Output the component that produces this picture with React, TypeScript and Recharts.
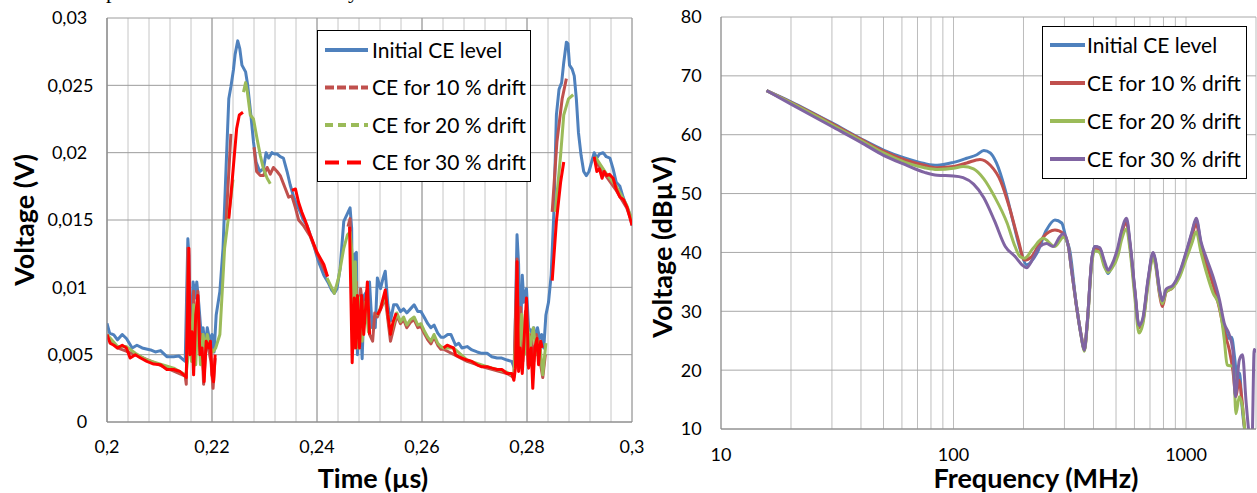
import React from 'react';
import { LineChart, Line, XAxis, YAxis, CartesianGrid } from 'recharts';

type Pt = [number, number | null];

// ---------- Left chart (time domain) ----------
const timeTickValues = [0.2, 0.22, 0.24, 0.26, 0.28, 0.3];
const timeTickLabels = ['0,2', '0,22', '0,24', '0,26', '0,28', '0,3'];
const timeMinorStep = 0.004;
const voltTickValues = [0, 0.005, 0.01, 0.015, 0.02, 0.025, 0.03];
const voltTickLabels = ['0', '0,005', '0,01', '0,015', '0,02', '0,025', '0,03'];

const seriesNames = ['Initial CE level', 'CE for 10 % drift', 'CE for 20 % drift', 'CE for 30 % drift'];

const initialTime: Pt[] = [
  [0.2, 0.00733], [0.2005, 0.0066], [0.2013, 0.00647], [0.202, 0.0061], [0.2029, 0.0065], [0.2037, 0.0062],
  [0.2048, 0.0055], [0.2057, 0.0057], [0.2067, 0.0055], [0.2083, 0.00535], [0.2092, 0.0052], [0.2102, 0.0053],
  [0.2114, 0.00485], [0.2127, 0.00485], [0.2137, 0.0049], [0.2149, 0.0045], [0.2154, 0.0136], [0.2156, 0.0124],
  [0.2159, 0.0055], [0.2164, 0.0104], [0.2168, 0.0092], [0.2171, 0.0104], [0.2175, 0.0087], [0.2179, 0.0067],
  [0.2183, 0.007], [0.2187, 0.0055], [0.2191, 0.007], [0.2196, 0.006], [0.22, 0.0065], [0.2204, 0.0052],
  [0.2208, 0.00795], [0.2215, 0.0097], [0.2221, 0.0129], [0.2227, 0.0191], [0.2232, 0.024], [0.2236, 0.0249],
  [0.2241, 0.0262], [0.2244, 0.0273], [0.2249, 0.0283], [0.2253, 0.0277], [0.2257, 0.0265], [0.2264, 0.026],
  [0.2268, 0.025], [0.2274, 0.0228], [0.2279, 0.0208], [0.2284, 0.0193], [0.2291, 0.0186], [0.2298, 0.0188],
  [0.2303, 0.02], [0.2308, 0.0196], [0.2314, 0.02], [0.2319, 0.0199], [0.2324, 0.0199], [0.233, 0.0197],
  [0.2336, 0.0196], [0.2343, 0.0186], [0.2349, 0.0176], [0.2355, 0.0168], [0.2362, 0.0161], [0.2368, 0.0156],
  [0.2374, 0.015], [0.2381, 0.0146], [0.2387, 0.0139], [0.2394, 0.0131], [0.2403, 0.0119], [0.2413, 0.0109],
  [0.2422, 0.0103], [0.2428, 0.0098], [0.2433, 0.00955], [0.2438, 0.0099], [0.2444, 0.0114], [0.2451, 0.0149],
  [0.2457, 0.0154], [0.2463, 0.0159], [0.2466, 0.0144], [0.2468, 0.0055], [0.2471, 0.0124], [0.2475, 0.0126],
  [0.2477, 0.005], [0.2481, 0.0092], [0.2486, 0.0047], [0.249, 0.0094], [0.2495, 0.0097], [0.25, 0.0104],
  [0.2505, 0.007], [0.2511, 0.007], [0.2515, 0.0107], [0.2521, 0.0099], [0.2526, 0.0107], [0.253, 0.0112],
  [0.2535, 0.0087], [0.254, 0.0075], [0.2546, 0.0087], [0.2552, 0.0087], [0.2559, 0.0082], [0.2565, 0.0084],
  [0.2571, 0.0081], [0.2578, 0.0084], [0.2585, 0.0087], [0.2592, 0.0082], [0.2598, 0.0082], [0.2604, 0.0078],
  [0.2611, 0.0073], [0.2617, 0.007], [0.2623, 0.0072], [0.263, 0.0066], [0.2636, 0.0063], [0.2642, 0.0063],
  [0.2649, 0.0065], [0.2655, 0.0065], [0.2664, 0.0057], [0.267, 0.00585], [0.2676, 0.0055], [0.2686, 0.0056],
  [0.2695, 0.00535], [0.2705, 0.0052], [0.2714, 0.0051], [0.2724, 0.0051], [0.2733, 0.00485], [0.2743, 0.00475],
  [0.2752, 0.00475], [0.2762, 0.0046], [0.2771, 0.0045], [0.2776, 0.004], [0.2781, 0.0139], [0.2784, 0.0117],
  [0.2787, 0.0055], [0.2791, 0.0109], [0.2794, 0.0089], [0.2799, 0.0099], [0.2803, 0.007], [0.2808, 0.0067],
  [0.2813, 0.007], [0.2817, 0.006], [0.282, 0.007], [0.2824, 0.0062], [0.2828, 0.0065], [0.2832, 0.0055],
  [0.2836, 0.00795], [0.2841, 0.0089], [0.2846, 0.0109], [0.2851, 0.0154], [0.2856, 0.0228], [0.2861, 0.0247],
  [0.2866, 0.0252], [0.287, 0.0267], [0.2875, 0.0282], [0.2878, 0.0281], [0.2881, 0.0265], [0.2886, 0.0262],
  [0.289, 0.0257], [0.2894, 0.024], [0.2898, 0.0215], [0.2903, 0.0198], [0.2908, 0.0186], [0.2913, 0.0183],
  [0.2918, 0.0186], [0.2923, 0.0193], [0.2928, 0.02], [0.2933, 0.0196], [0.2938, 0.0199], [0.2945, 0.02],
  [0.2951, 0.0197], [0.2958, 0.0196], [0.2964, 0.0188], [0.297, 0.0178], [0.2977, 0.0175], [0.2983, 0.0167],
  [0.2989, 0.0161], [0.2996, 0.0154], [0.3, 0.0146],
];

const drift10Time: Pt[] = [
  [0.2, 0.0064], [0.202, 0.0055], [0.2054, 0.005], [0.2102, 0.0042], [0.2149, 0.0034], [0.2151, 0.0028],
  [0.2154, 0.0129], [0.2157, 0.008], [0.216, 0.005], [0.2165, 0.0097], [0.2168, 0.00425], [0.2173, 0.0097],
  [0.2177, 0.0055], [0.218, 0.0065], [0.2184, 0.0028], [0.2189, 0.006], [0.2193, 0.0055], [0.2198, 0.0045],
  [0.2202, 0.0025], [0.2206, 0.00475], [0.222, null], [0.2227, 0.015], [0.2236, 0.0214], [0.225, null],
  [0.228, 0.0204], [0.2285, 0.0186], [0.2292, 0.0183], [0.2298, 0.0183], [0.2305, 0.0189], [0.2311, 0.0184],
  [0.2317, 0.0189], [0.2324, 0.0186], [0.233, 0.0183], [0.234, 0.0173], [0.2346, 0.0167], [0.2352, 0.0168],
  [0.2359, 0.0159], [0.2365, 0.015], [0.2374, 0.0146], [0.2387, 0.0138], [0.24, 0.0125], [0.242, 0.0108],
  [0.244, null], [0.2459, 0.0145], [0.2463, 0.0151], [0.2467, 0.008], [0.2471, 0.0055], [0.2475, 0.0104],
  [0.2479, 0.0055], [0.2483, 0.0099], [0.2489, 0.008], [0.2495, 0.0097], [0.25, 0.0065], [0.2506, 0.006],
  [0.251, 0.0081], [0.2515, 0.0078], [0.253, 0.0092], [0.254, 0.006], [0.2552, 0.0079], [0.2559, 0.0073],
  [0.2565, 0.0076], [0.2571, 0.007], [0.2578, 0.0074], [0.2585, 0.0076], [0.2592, 0.007], [0.2598, 0.0071],
  [0.2604, 0.0066], [0.2611, 0.0061], [0.2617, 0.0058], [0.2623, 0.0063], [0.263, 0.0057], [0.2636, 0.0054],
  [0.2641, 0.0054], [0.2686, 0.0045], [0.2724, 0.004], [0.2762, 0.0036], [0.2775, 0.0033], [0.2781, 0.0121],
  [0.2784, 0.006], [0.2788, 0.0085], [0.2792, 0.0045], [0.2797, 0.0082], [0.2802, 0.0042], [0.2808, 0.0065],
  [0.2813, 0.0045], [0.2818, 0.0065], [0.2823, 0.005], [0.283, 0.0033], [0.2835, 0.005], [0.2842, null],
  [0.2848, 0.0156], [0.2857, 0.0208], [0.2867, 0.024], [0.2875, 0.0255], [0.29, null], [0.2928, 0.0195],
  [0.295, 0.0183], [0.297, 0.0172], [0.299, 0.0159], [0.3, 0.0148],
];

const drift20Time: Pt[] = [
  [0.2, 0.0065], [0.202, 0.0056], [0.2037, 0.0056], [0.2054, 0.0051], [0.2076, 0.0046], [0.2102, 0.0043],
  [0.2127, 0.004], [0.2149, 0.0035], [0.215, 0.0033], [0.2154, 0.00475], [0.2157, 0.0084], [0.2161, 0.0045],
  [0.2165, 0.0087], [0.2169, 0.00425], [0.2173, 0.00795], [0.2178, 0.00425], [0.2183, 0.0065], [0.2187, 0.0055],
  [0.2191, 0.0065], [0.2196, 0.0055], [0.2202, 0.0052], [0.2207, 0.0055], [0.2215, 0.0065], [0.2224, 0.0129],
  [0.2232, 0.0154], [0.224, 0.018], [0.225, null], [0.226, 0.0245], [0.2264, 0.0252], [0.2267, 0.0246],
  [0.2273, 0.0228], [0.2279, 0.0225], [0.2286, 0.021], [0.2292, 0.0198], [0.2298, 0.0188], [0.2305, 0.0181],
  [0.2311, 0.0177], [0.235, null], [0.2419, 0.0107], [0.2433, 0.00955], [0.2441, 0.0107], [0.2451, 0.0129],
  [0.2458, 0.0139], [0.2463, 0.0141], [0.2467, 0.0124], [0.247, 0.00795], [0.2473, 0.0119], [0.2477, 0.0055],
  [0.2481, 0.0092], [0.2486, 0.006], [0.2492, 0.0089], [0.2498, 0.0067], [0.2501, 0.007], [0.2508, null],
  [0.2515, 0.0079], [0.253, 0.0094], [0.254, 0.0065], [0.2552, 0.0081], [0.2559, 0.00745], [0.2565, 0.0078],
  [0.2571, 0.0072], [0.2578, 0.0076], [0.2585, 0.0078], [0.2592, 0.0072], [0.2598, 0.0073], [0.2604, 0.0068],
  [0.2611, 0.0063], [0.2617, 0.006], [0.2623, 0.0065], [0.263, 0.00585], [0.2636, 0.0056], [0.2641, 0.0055],
  [0.266, 0.0055], [0.2686, 0.0046], [0.2724, 0.0041], [0.2762, 0.0037], [0.2775, 0.0034], [0.2778, 0.0057],
  [0.2781, 0.0089], [0.2785, 0.0045], [0.279, 0.008], [0.2795, 0.005], [0.28, 0.0075], [0.2806, 0.0055],
  [0.2812, 0.007], [0.2818, 0.005], [0.2824, 0.006], [0.283, 0.0035], [0.2836, 0.00585], [0.2845, null],
  [0.2854, 0.0156], [0.2864, 0.0198], [0.287, 0.0228], [0.2879, 0.024], [0.2888, 0.0243], [0.29, null],
  [0.293, 0.0197], [0.295, 0.0185], [0.297, 0.0175], [0.299, 0.0161], [0.3, 0.015],
];

const drift30Time: Pt[] = [
  [0.2, 0.0065], [0.2006, 0.00585], [0.2013, 0.0057], [0.202, 0.0055], [0.2029, 0.0057], [0.2037, 0.0055],
  [0.2044, 0.00475], [0.2054, 0.005], [0.2064, 0.00475], [0.2076, 0.0045], [0.2089, 0.0043], [0.2102, 0.00425],
  [0.2114, 0.0039], [0.2127, 0.0039], [0.2139, 0.00375], [0.2149, 0.0034], [0.2151, 0.0033], [0.2156, 0.0129],
  [0.2158, 0.005], [0.2162, 0.0067], [0.2165, 0.0035], [0.2169, 0.00795], [0.2173, 0.0094], [0.2177, 0.005],
  [0.2181, 0.0055], [0.2185, 0.003], [0.2189, 0.006], [0.2194, 0.0055], [0.2197, 0.006], [0.22, 0.0035],
  [0.2203, 0.003], [0.2206, 0.005], [0.221, null], [0.2232, 0.0151], [0.2236, 0.0168], [0.2241, 0.0191],
  [0.2247, 0.0218], [0.2252, 0.0228], [0.2259, 0.023], [0.23, null], [0.2352, 0.0172], [0.2359, 0.0173],
  [0.2365, 0.0163], [0.2371, 0.0156], [0.2378, 0.0149], [0.2387, 0.0139], [0.24, 0.0126], [0.2413, 0.0117],
  [0.242, 0.0108], [0.244, null], [0.2462, 0.0145], [0.2467, 0.0044], [0.2471, 0.0092], [0.2474, 0.0055],
  [0.2477, 0.0094], [0.2481, 0.0055], [0.2485, 0.0094], [0.2489, 0.0065], [0.2493, 0.0087], [0.2496, 0.0104],
  [0.25, 0.0065], [0.2508, null], [0.2515, 0.00795], [0.2521, 0.0084], [0.2526, 0.0092], [0.253, 0.0098],
  [0.2535, 0.00795], [0.254, 0.0065], [0.2545, 0.00745], [0.2551, 0.0081], [0.258, null], [0.2641, 0.0055],
  [0.2648, 0.0057], [0.2654, 0.0056], [0.266, 0.0055], [0.2664, 0.005], [0.267, 0.00485], [0.2676, 0.00475],
  [0.2686, 0.0046], [0.2695, 0.0045], [0.2705, 0.00425], [0.2714, 0.0041], [0.2724, 0.0041], [0.2733, 0.004],
  [0.2743, 0.0039], [0.2752, 0.0039], [0.2762, 0.0036], [0.2771, 0.0036], [0.2775, 0.0031], [0.2778, 0.004],
  [0.2781, 0.0119], [0.2784, 0.00375], [0.2787, 0.0055], [0.2791, 0.0036], [0.2795, 0.0065], [0.2799, 0.0092],
  [0.2803, 0.004], [0.2808, 0.0055], [0.2811, 0.0025], [0.2815, 0.0055], [0.2819, 0.0062], [0.2822, 0.00425],
  [0.2826, 0.006], [0.2829, 0.0055], [0.284, null], [0.2848, 0.0105], [0.2856, 0.0149], [0.2864, 0.0178],
  [0.287, 0.0193], [0.29, null], [0.2928, 0.0197], [0.2933, 0.0186], [0.2938, 0.0188], [0.2943, 0.0181],
  [0.2947, 0.0186], [0.2952, 0.0183], [0.2957, 0.0184], [0.2964, 0.0181], [0.297, 0.0173], [0.2977, 0.0167],
  [0.2984, 0.0165], [0.2991, 0.0159], [0.3, 0.0146],
];

// ---------- Right chart (frequency domain) ----------
const freqTickValues = [10, 100, 1000];
const freqTickLabels = ['10', '100', '1000'];
const freqDomain = [10, 2000];
const dbTickValues = [10, 20, 30, 40, 50, 60, 70, 80];
const dbTickLabels = ['10', '20', '30', '40', '50', '60', '70', '80'];

const initialFreq: Pt[] = [
  [15.7, 67.5], [20, 65.6], [30, 62.0], [40, 59.3], [50, 57.4], [62, 56.0], [75, 55.1], [85, 54.8], [100, 55.3],
  [114, 56.0], [126, 56.6], [135, 57.3], [144, 56.9], [153, 55.2], [167, 50.6], [181, 45.0], [196, 39.8],
  [206, 37.9], [228, 39.8], [251, 43.8], [273, 45.5], [292, 45.0], [306, 42.1], [316, 40.4], [338, 30.8],
  [355, 25.7], [365, 23.4], [376, 28.0], [393, 38.7], [405, 41.0], [425, 40.7], [446, 38.1], [462, 36.4],
  [478, 37.5], [510, 40.4], [527, 43.2], [555, 45.4], [574, 41.5], [602, 33.6], [628, 27.4], [652, 28.5],
  [687, 35.3], [722, 39.8], [737, 38.7], [772, 33.1], [791, 31.6], [822, 33.6], [876, 34.2], [938, 36.4],
  [1000, 39.8], [1059, 43.2], [1106, 45.5], [1160, 41.5], [1220, 38.7], [1304, 35.3], [1392, 31.4], [1462, 27.4],
  [1530, 25.4], [1570, 25.6], [1620, 22.0], [1660, 18.5], [1700, 19.5], [1740, 14.0], [1800, 9.0], [1900, 6.0],
];

const drift10Freq: Pt[] = [
  [15.7, 67.5], [20, 65.5], [30, 61.9], [40, 59.2], [50, 57.2], [62, 55.7], [75, 54.8], [85, 54.4], [100, 54.6],
  [114, 55.2], [130, 55.8], [144, 54.8], [160, 52.0], [175, 47.3], [190, 42.1], [202, 38.7], [217, 39.3],
  [243, 42.6], [273, 43.8], [297, 43.2], [312, 41.0], [322, 37.0], [338, 30.8], [355, 25.7], [365, 23.4],
  [376, 28.0], [393, 38.5], [405, 40.7], [425, 40.5], [446, 37.8], [462, 36.8], [478, 37.5], [510, 40.2],
  [527, 43.0], [555, 45.0], [574, 41.3], [602, 33.4], [628, 27.2], [652, 28.3], [687, 35.0], [722, 39.6],
  [737, 38.5], [772, 32.5], [791, 30.8], [822, 33.3], [876, 34.0], [938, 36.2], [1000, 39.6], [1059, 42.8],
  [1106, 44.8], [1160, 41.2], [1220, 38.2], [1304, 34.6], [1392, 30.5], [1462, 26.5], [1536, 23.4], [1590, 20.0],
  [1640, 15.5], [1690, 18.3], [1740, 15.0], [1800, 9.0], [1900, 6.0],
];

const drift20Freq: Pt[] = [
  [15.7, 67.5], [20, 65.4], [30, 61.7], [40, 59.0], [50, 56.9], [62, 55.3], [75, 54.4], [85, 54.1], [100, 54.3],
  [110, 54.6], [122, 54.2], [135, 52.5], [150, 49.5], [170, 45.0], [184, 41.0], [193, 39.3], [202, 39.0],
  [220, 40.7], [243, 42.4], [273, 41.0], [297, 42.6], [310, 41.5], [322, 37.0], [338, 31.0], [355, 25.5],
  [365, 23.2], [376, 27.5], [393, 38.0], [405, 40.3], [425, 40.0], [446, 37.5], [462, 36.6], [478, 37.2],
  [510, 39.5], [527, 42.0], [555, 44.0], [574, 40.5], [602, 32.5], [628, 26.3], [652, 27.8], [687, 34.5],
  [722, 39.3], [737, 38.0], [772, 32.8], [791, 31.3], [822, 33.3], [876, 34.0], [938, 35.8], [1000, 38.8],
  [1059, 41.5], [1106, 43.5], [1160, 40.0], [1220, 36.8], [1304, 33.2], [1392, 30.8], [1462, 25.1], [1502, 20.9],
  [1600, 20.6], [1640, 12.6], [1695, 15.5], [1750, 13.7], [1800, 9.0], [1900, 6.0],
];

const drift30Freq: Pt[] = [
  [15.7, 67.5], [20, 65.2], [30, 61.4], [40, 58.7], [50, 56.5], [62, 54.9], [75, 53.6], [85, 53.1], [100, 53.0],
  [110, 52.7], [122, 51.6], [135, 49.3], [150, 45.4], [167, 41.0], [184, 39.3], [197, 37.9], [206, 37.4],
  [220, 39.0], [235, 41.0], [251, 41.5], [268, 41.0], [287, 42.7], [297, 43.2], [312, 41.0], [322, 37.0],
  [338, 31.0], [355, 25.5], [365, 23.4], [376, 28.0], [393, 38.7], [405, 41.0], [425, 40.8], [446, 38.5],
  [462, 37.0], [478, 37.8], [510, 41.0], [527, 43.5], [555, 45.8], [574, 41.8], [602, 33.8], [628, 27.6],
  [652, 28.8], [687, 35.5], [722, 40.0], [737, 38.9], [772, 33.3], [791, 31.8], [822, 33.8], [876, 34.4],
  [938, 36.6], [1000, 40.0], [1059, 43.4], [1106, 45.8], [1160, 41.8], [1220, 39.2], [1304, 36.0], [1392, 32.0],
  [1462, 27.9], [1536, 26.0], [1590, 23.4], [1630, 15.5], [1695, 21.7], [1750, 22.6], [1810, 15.0], [1870, 9.0],
  [1920, 7.0], [1965, 23.5], [2000, 23.0],
];

// ---------- styling ----------
const FONT = 'Lato, "Open Sans", sans-serif';
const COLORS_LEFT = ['#4f81bd', '#c0504d', '#9bbb59', '#ff0000'];
const DASH_LEFT = ['', '9 3', '8 5', '14 8'];
const COLORS_RIGHT = ['#4f81bd', '#c0504d', '#9bbb59', '#8064a2'];

const toRows = (pts: Pt[], k: string) => pts.map(([x, v]) => ({ [k]: x, v }));

const timeMinorTicks = Array.from(
  { length: Math.round((timeTickValues[timeTickValues.length - 1] - timeTickValues[0]) / timeMinorStep) + 1 },
  (_, i) => Math.round((timeTickValues[0] + i * timeMinorStep) * 1e6) / 1e6
);
const freqGridTicks = freqTickValues
  .flatMap((d) => [1, 2, 3, 4, 5, 6, 7, 8, 9].map((k) => k * d))
  .filter((f) => f <= freqDomain[1]);

const labelFor = (values: number[], labels: string[], v: number) => {
  const i = values.findIndex((x) => Math.abs(x - v) < 1e-9 * Math.max(1, Math.abs(x)));
  return i >= 0 ? labels[i] : '';
};

const Legend = ({ left, top, width, height, first, step, lineX, lineW, textX, colors, dashes }: any) => (
  <div
    style={{
      position: 'absolute', left, top, width, height, boxSizing: 'border-box',
      border: '1px solid #000', background: '#fff', fontFamily: FONT,
    }}
  >
    <svg width={width - 2} height={height - 2} style={{ position: 'absolute', left: 0, top: 0 }}>
      {seriesNames.map((name, i) => {
        const cy = first + i * step - 1;
        return (
          <g key={name}>
            <line x1={lineX} x2={lineX + lineW} y1={cy} y2={cy} stroke={colors[i]} strokeWidth={4}
              strokeDasharray={dashes ? dashes[i] : undefined} />
            <text x={textX} y={cy} dy="0.36em" fontSize={21} fill="#000" fontFamily={FONT}>{name}</text>
          </g>
        );
      })}
    </svg>
  </div>
);

const Title = ({ x, y, text, vertical }: any) => (
  <div
    style={{
      position: 'absolute', left: x, top: y, transform: `translate(-50%, -50%)${vertical ? ' rotate(-90deg)' : ''}`,
      fontFamily: FONT, fontWeight: 700, fontSize: 27, whiteSpace: 'nowrap', color: '#000', lineHeight: 1,
    }}
  >
    {text}
  </div>
);

const LeftChart = () => {
  const plotBottom = 422;
  const XTick = (p: any) => {
    const label = labelFor(timeTickValues, timeTickLabels, p.payload.value);
    return label ? (
      <text x={p.x} y={plotBottom + 25} dy="0.36em" textAnchor="middle" fontSize={18} fontFamily={FONT} fill="#000">
        {label}
      </text>
    ) : <g />;
  };
  const YTick = (p: any) => {
    const label = labelFor(voltTickValues, voltTickLabels, p.payload.value);
    const long = label.length >= 5;
    return (
      <text x={long ? 70.5 : 87.3} y={p.y} dy="0.36em" textAnchor={long ? 'middle' : 'end'} fontSize={18}
        fontFamily={FONT} fill="#000">
        {label}
      </text>
    );
  };
  const series = [initialTime, drift10Time, drift20Time, drift30Time];
  return (
    <LineChart width={660} height={493} margin={{ top: 18, right: 28, bottom: 41, left: 0 }}>
      <XAxis dataKey="t" type="number" domain={[0.2, 0.3]} ticks={timeMinorTicks} interval={0}
        allowDataOverflow tick={XTick} tickLine={false} axisLine={{ stroke: '#888' }} height={30} />
      <XAxis xAxisId="major" dataKey="t" type="number" domain={[0.2, 0.3]} ticks={timeTickValues} hide
        allowDataOverflow />
      <YAxis type="number" domain={[0, 0.03]} ticks={voltTickValues} interval={0} allowDataOverflow
        tick={YTick} tickLine={false} axisLine={{ stroke: '#888' }} width={107} />
      <CartesianGrid vertical horizontal={false} stroke="#c6c6c6" strokeWidth={1} />
      <CartesianGrid xAxisId="major" vertical horizontal={false} stroke="#969696" strokeWidth={1} />
      <CartesianGrid vertical={false} horizontal stroke="#9c9c9c" strokeWidth={1} />
      {series.map((pts, i) => (
        <Line key={seriesNames[i]} data={toRows(pts, 't')} dataKey="v" name={seriesNames[i]} type="linear"
          stroke={COLORS_LEFT[i]} strokeWidth={3} dot={false} activeDot={false} isAnimationActive={false}
          connectNulls={false} strokeLinejoin="round" />
      ))}
    </LineChart>
  );
};

const RightChart = () => {
  const plotBottom = 429;
  const XTick = (p: any) => {
    const label = labelFor(freqTickValues, freqTickLabels, p.payload.value);
    return label ? (
      <text x={p.x} y={plotBottom + 26} dy="0.36em" textAnchor="middle" fontSize={18} fontFamily={FONT} fill="#000">
        {label}
      </text>
    ) : <g />;
  };
  const YTick = (p: any) => {
    const label = labelFor(dbTickValues, dbTickLabels, p.payload.value);
    return (
      <text x={61.7} y={p.y} dy="0.36em" textAnchor="end" fontSize={18} fontFamily={FONT} fill="#000">
        {label}
      </text>
    );
  };
  const series = [initialFreq, drift10Freq, drift20Freq, drift30Freq];
  return (
    <LineChart width={617} height={493} margin={{ top: 17, right: 1, bottom: 34, left: 0 }}>
      <XAxis dataKey="f" type="number" scale="log" domain={freqDomain} ticks={freqGridTicks} interval={0}
        allowDataOverflow tick={XTick} tickLine={false} axisLine={{ stroke: '#888' }} height={30} />
      <YAxis type="number" domain={[10, 80]} ticks={dbTickValues} interval={0} allowDataOverflow
        tick={YTick} tickLine={false} axisLine={{ stroke: '#888' }} width={81} />
      <CartesianGrid vertical horizontal={false} stroke="#bdbdbd" strokeWidth={1} />
      <CartesianGrid vertical={false} horizontal stroke="#a8a8a8" strokeWidth={1} />
      {series.map((pts, i) => (
        <Line key={seriesNames[i]} data={toRows(pts, 'f')} dataKey="v" name={seriesNames[i]} type="monotone"
          stroke={COLORS_RIGHT[i]} strokeWidth={3} dot={false} activeDot={false} isAnimationActive={false} />
      ))}
    </LineChart>
  );
};

export default function App() {
  return (
    <div style={{ position: 'absolute', left: 0, top: 0, width: 1257, height: 493, background: '#fff', overflow: 'hidden' }}>
      <svg width={1257} height={12} style={{ position: 'absolute', left: 0, top: 0 }}>
        <text x={106} y={-2} fontFamily='"Liberation Serif", serif' fontSize={22} fill="#000">p</text>
        <text x={348} y={-2} fontFamily='"Liberation Serif", serif' fontSize={22} fill="#000">y</text>
      </svg>
      <div style={{ position: 'absolute', left: 640, top: 0 }}>
        <RightChart />
      </div>
      <div style={{ position: 'absolute', left: 0, top: 0 }}>
        <LeftChart />
      </div>
      <Legend left={317} top={30} width={214} height={152} first={20} step={37.5} lineX={7} lineW={43}
        textX={54} colors={COLORS_LEFT} dashes={DASH_LEFT} />
      <Legend left={1042} top={26} width={205} height={153} first={19} step={38} lineX={7} lineW={35}
        textX={44} colors={COLORS_RIGHT} />
      <Title x={373} y={477} text="Time (µs)" />
      <Title x={1036} y={477} text="Frequency (MHz)" />
      <Title x={23} y={220} text="Voltage (V)" vertical />
      <Title x={661} y={247} text="Voltage (dBµV)" vertical />
    </div>
  );
}
